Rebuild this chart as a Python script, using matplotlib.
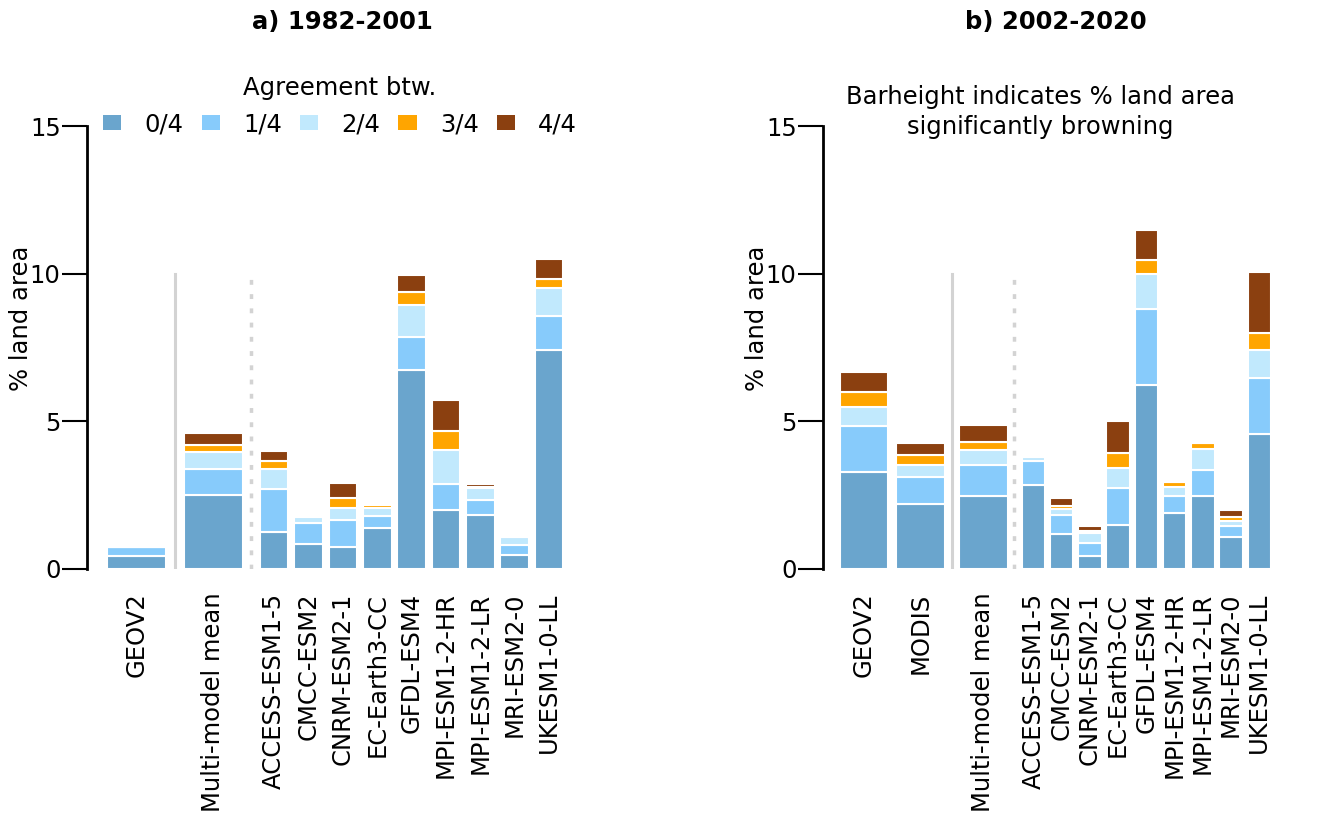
import numpy as np
import matplotlib
matplotlib.use("Agg")
import matplotlib.pyplot as plt
from matplotlib.patches import Patch

plt.rcParams["font.family"] = ["DejaVu Sans"]
FS = 17.5

agree_labels = ["0/4", "1/4", "2/4", "3/4", "4/4"]
agree_colors = ["#6aa5cd", "#87cbfb", "#c1e9fd", "#ffa500", "#8b4010"]

models = ["ACCESS-ESM1-5", "CMCC-ESM2", "CNRM-ESM2-1", "EC-Earth3-CC", "GFDL-ESM4",
          "MPI-ESM1-2-HR", "MPI-ESM1-2-LR", "MRI-ESM2-0", "UKESM1-0-LL"]

# a) 1982-2001: observations, multi-model mean, then models
obs_a = ["GEOV2"]
a_0 = [0.45, 2.52, 1.24, 0.86, 0.73, 1.40, 6.75, 2.00, 1.83, 0.46, 7.42]
a_1 = [0.28, 0.85, 1.48, 0.69, 0.93, 0.41, 1.11, 0.88, 0.51, 0.35, 1.14]
a_2 = [0.00, 0.60, 0.67, 0.21, 0.39, 0.26, 1.09, 1.14, 0.39, 0.27, 0.95]
a_3 = [0.00, 0.22, 0.25, 0.08, 0.35, 0.08, 0.43, 0.66, 0.06, 0.00, 0.31]
a_4 = [0.00, 0.40, 0.36, 0.06, 0.52, 0.10, 0.56, 1.03, 0.10, 0.00, 0.67]

# b) 2002-2020
obs_b = ["GEOV2", "MODIS"]
b_0 = [3.30, 2.21, 2.48, 2.84, 1.17, 0.45, 1.50, 6.22, 1.91, 2.48, 1.07, 4.57]
b_1 = [1.53, 0.92, 1.04, 0.81, 0.67, 0.43, 1.23, 2.59, 0.57, 0.88, 0.40, 1.90]
b_2 = [0.67, 0.40, 0.51, 0.13, 0.18, 0.34, 0.69, 1.18, 0.29, 0.69, 0.17, 0.95]
b_3 = [0.49, 0.34, 0.27, 0.08, 0.10, 0.06, 0.50, 0.48, 0.18, 0.22, 0.11, 0.56]
b_4 = [0.67, 0.40, 0.56, 0.02, 0.30, 0.18, 1.10, 1.02, 0.02, 0.02, 0.24, 2.07]


def draw_panel(ax, obs, stacks, xmax):
    n_obs = len(obs)
    m0 = 2 * n_obs + 2
    xs = list(2 * np.arange(n_obs)) + [m0 - 1.77] + list(m0 + np.arange(len(models)))
    widths = [1.72] * (n_obs + 1) + [0.83] * len(models)
    labels = obs + ["Multi-model mean"] + models

    bottom = np.zeros(len(xs))
    for vals, col in zip(stacks, agree_colors):
        vals = np.array(vals)
        ax.bar(xs, vals, width=widths, bottom=bottom, color=col,
               edgecolor="white", linewidth=1.5)
        bottom += vals

    # separators: obs | multi-model mean | models
    ax.plot([m0 - 2.9] * 2, [0, 10], color="#d3d3d3", lw=2.2, zorder=0)
    ax.plot([m0 - 0.68] * 2, [0, 9.85], color="#d3d3d3", lw=2.5,
            linestyle=(0, (1.4, 2.7)), zorder=0)

    ax.set_xlim(-1.45, xmax)
    ax.set_ylim(0, 17.0)
    ax.set_xticks(xs)
    ax.set_xticklabels(labels, rotation=90, fontsize=FS)
    ax.tick_params(axis="x", length=0, pad=17)
    ax.set_yticks([0, 5, 10, 15])
    ax.tick_params(axis="y", labelsize=FS, length=18, width=1.5, pad=1)
    for s in ["top", "right", "bottom"]:
        ax.spines[s].set_visible(False)
    ax.spines["left"].set_linewidth(2)
    ax.spines["left"].set_bounds(0, 15)
    ax.set_ylabel("% land area", fontsize=FS, labelpad=-2)


fig = plt.figure(figsize=(13.35, 8.19), dpi=100)
ax1 = fig.add_axes([0.0652, 0.3053, 0.3828, 0.6129])
ax2 = fig.add_axes([0.6165, 0.3053, 0.349, 0.6129])

draw_panel(ax1, obs_a, [a_0, a_1, a_2, a_3, a_4], 13.43)
draw_panel(ax2, obs_b, [b_0, b_1, b_2, b_3, b_4], 15.05)

fig.text(342.5 / 1335, 1 - 22 / 819, "a) 1982-2001", ha="center", va="center",
         fontsize=FS, fontweight="bold")
fig.text(1056 / 1335, 1 - 22 / 819, "b) 2002-2020", ha="center", va="center",
         fontsize=FS, fontweight="bold")

handles = [Patch(facecolor=c, edgecolor="none") for c in agree_colors]
fig.legend(handles, agree_labels, title="Agreement btw.", ncol=5, frameon=False,
           fontsize=FS, title_fontsize=FS, loc="center",
           bbox_to_anchor=(340 / 1335, 1 - 106 / 819),
           handlelength=0.75, handleheight=0.6, handletextpad=0.95,
           columnspacing=0.75)

fig.text(1040 / 1335, 1 - 112 / 819,
         "Barheight indicates % land area\nsignificantly browning",
         ha="center", va="center", fontsize=FS, linespacing=1.35)

fig.savefig("out.png", dpi=100)
